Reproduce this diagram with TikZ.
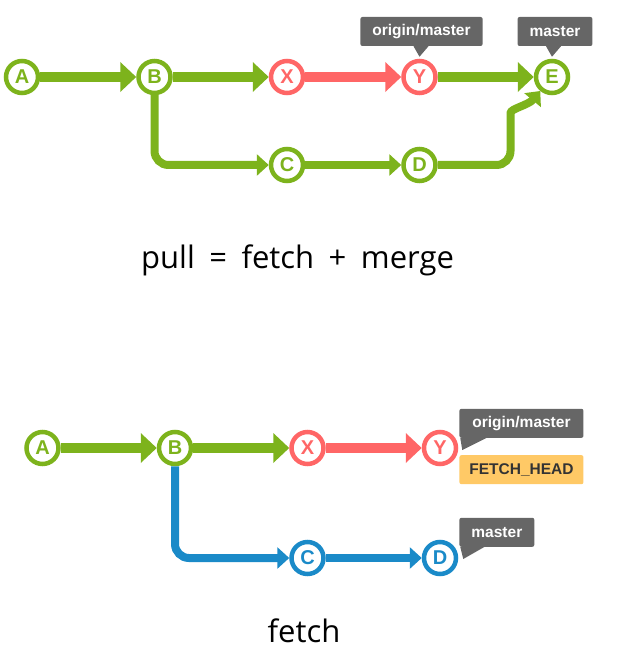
\documentclass[tikz,border=0pt]{standalone}
\usepackage{fontspec}
\setmainfont{Liberation Sans}
\newfontfamily\captionfont[WordSpace=1.8]{Open Sans}
\usetikzlibrary{arrows.meta,positioning}

\definecolor{gitgreen}{HTML}{7DB31C}
\definecolor{gitred}{HTML}{FF6666}
\definecolor{gitblue}{HTML}{1A8AC8}
\definecolor{taggray}{HTML}{666666}
\definecolor{fetchorange}{HTML}{FFC966}

\begin{document}
\begin{tikzpicture}[
  x=1pt, y=1pt,
  node distance=132.5pt, on grid,
  commit/.style={circle, draw=#1, line width=4.5pt, fill=white, text=#1, minimum size=32pt, inner sep=0pt,
                 font=\fontsize{20}{20}\selectfont\bfseries},
  trunk/.style={draw=#1, line width=10.5pt, -{Triangle[length=16pt,width=29pt]}},
  branch/.style={draw=#1, line width=8pt, rounded corners=14pt, -{Triangle[length=12pt,width=21pt]}},
  tag/.style={fill=taggray, text=white, rounded corners=2pt, minimum height=29pt, inner xsep=12pt,
              font=\fontsize{15.5}{15.5}\selectfont\bfseries},
  headtag/.style={tag, fill=fetchorange, text=black!80, inner xsep=9pt},
  caption/.style={font=\captionfont\fontsize{31}{31}\selectfont}
]
\useasboundingbox (0,0) rectangle (618,-671);

% pull = fetch + merge
\node[commit=gitgreen] (pA) at (22,-77) {A};
\node[commit=gitgreen, right=of pA] (pB) {B};
\node[commit=gitred, right=of pB] (pX) {X};
\node[commit=gitred, right=of pX] (pY) {Y};
\node[commit=gitgreen, right=of pY] (pE) {E};
\node[commit=gitgreen, below=88pt of pX] (pC) {C};
\node[commit=gitgreen, below=88pt of pY] (pD) {D};
\node[tag, above=45.5pt of pY, xshift=2pt] (pOrigin) {origin/master};
\node[tag, above=45.5pt of pE, xshift=3pt] (pMaster) {master};
\node[caption, anchor=base] (pullcap) at (297.5,-268) {pull = fetch + merge};

\fill[taggray] ([xshift=-8pt]pOrigin.south) -- ([xshift=7pt]pOrigin.south) -- ([yshift=2pt]pY.north) -- cycle;
\fill[taggray] ([xshift=-9pt]pMaster.south) -- ([xshift=6pt]pMaster.south) -- ([yshift=2pt]pE.north) -- cycle;

\draw[trunk=gitgreen] (pA) -- (pB);
\draw[trunk=gitgreen] (pB) -- (pX);
\draw[trunk=gitred] (pX) -- (pY);
\draw[trunk=gitgreen] (pY) -- (pE);
\draw[branch=gitgreen] (pB) |- (pC);
\draw[branch=gitgreen] (pC) -- (pD);
\draw[branch=gitgreen] (pD) -- ++(91,0) -- ++(0,38) to[out=90,in=230] (pE);

% fetch
\node[commit=gitgreen] (fA) at (42.5,-448) {A};
\node[commit=gitgreen, right=of fA] (fB) {B};
\node[commit=gitred, right=of fB] (fX) {X};
\node[commit=gitred, right=of fX] (fY) {Y};
\node[commit=gitblue, below=110pt of fX] (fC) {C};
\node[commit=gitblue, below=110pt of fY] (fD) {D};
\node[tag, anchor=south west, minimum width=124pt] (fOrigin) at ([xshift=1pt,yshift=10pt]fY.east) {origin/master};
\node[headtag, anchor=north west, minimum width=124pt] (fHead) at ([xshift=1pt,yshift=-7pt]fY.east) {FETCH\_HEAD};
\node[tag, anchor=south west] (fMaster) at ([xshift=1pt,yshift=11pt]fD.east) {master};
\node[caption, anchor=base] (fetchcap) at (304,-642) {fetch};

\fill[taggray] ([xshift=1pt]fOrigin.south west) -- ([xshift=27pt]fOrigin.south west) -- ([xshift=4pt,yshift=-2pt]fY.east) -- cycle;
\fill[taggray] ([xshift=1pt]fMaster.south west) -- ([xshift=25pt]fMaster.south west) -- ([xshift=5pt,yshift=-1pt]fD.east) -- cycle;

\draw[trunk=gitgreen] (fA) -- (fB);
\draw[trunk=gitgreen] (fB) -- (fX);
\draw[trunk=gitred] (fX) -- (fY);
\draw[branch=gitblue] (fB) |- (fC);
\draw[branch=gitblue] (fC) -- (fD);
\end{tikzpicture}
\end{document}
